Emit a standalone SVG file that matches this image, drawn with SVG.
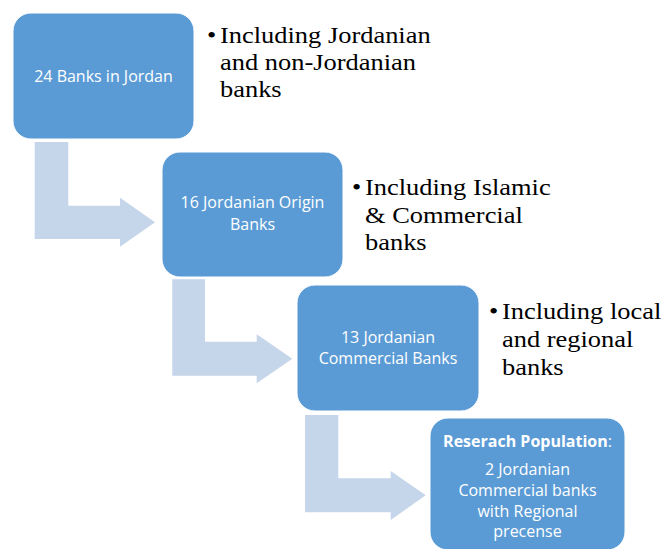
<svg xmlns="http://www.w3.org/2000/svg" width="662" height="549" viewBox="0 0 662 549">
  <style>
    .box { fill: #5B9BD5; stroke: #ffffff; stroke-width: 1; }
    .arrow { fill: #C5D5EA; }
    .lbl { font-family: "Open Sans", "Noto Sans", sans-serif; font-size: 16px; fill: #ffffff; text-anchor: middle; }
    .note { font-family: "Liberation Serif", "Times New Roman", serif; font-size: 23px; fill: #000000; }
  </style>

  <!-- bent connectors -->
  <g id="connectors">
    <polygon class="arrow" points="34.7,142 68.3,142 68.3,205.7 120,205.7 120,197.7 155,222.3 120,246.7 120,239 34.7,239"/>
    <polygon class="arrow" points="172.3,279.3 205,279.3 205,341.7 256.7,341.7 256.7,334.3 292.3,358.7 256.7,383.3 256.7,375.7 172.3,375.7"/>
    <polygon class="arrow" points="305,415 338.3,415 338.3,478.3 390.7,478.3 390.7,471 425.7,495.3 390.7,520 390.7,512.3 305,512.3"/>
  </g>

  <g id="node-all-banks">
    <rect class="box" x="13" y="13" width="181" height="126" rx="18"/>
    <text class="lbl" x="103.5" y="82">24 Banks in Jordan</text>
  </g>

  <g id="node-jordanian-origin">
    <rect class="box" x="162" y="152" width="181" height="125" rx="18"/>
    <text class="lbl" x="252.5" y="208">16 Jordanian Origin</text>
    <text class="lbl" x="252.5" y="230">Banks</text>
  </g>

  <g id="node-commercial">
    <rect class="box" x="297" y="285" width="182" height="126" rx="18"/>
    <text class="lbl" x="388" y="343">13 Jordanian</text>
    <text class="lbl" x="388" y="364">Commercial Banks</text>
  </g>

  <g id="node-population">
    <rect class="box" x="430" y="418" width="195" height="132" rx="18"/>
    <text class="lbl" x="527.5" y="447"><tspan font-weight="bold">Reserach Population</tspan>:</text>
    <text class="lbl" x="527.5" y="475">2 Jordanian</text>
    <text class="lbl" x="527.5" y="496">Commercial banks</text>
    <text class="lbl" x="527.5" y="517">with Regional</text>
    <text class="lbl" x="527.5" y="537">precense</text>
  </g>

  <!-- bullet notes, set slightly wide -->
  <g id="note-all-banks" transform="translate(207,0) scale(1.15,1)">
    <text class="note" x="0" y="43">•</text>
    <text class="note" x="11.3" y="43">Including Jordanian</text>
    <text class="note" x="11.3" y="70">and non-Jordanian</text>
    <text class="note" x="11.3" y="97">banks</text>
  </g>

  <g id="note-jordanian-origin" transform="translate(352,0) scale(1.15,1)">
    <text class="note" x="0" y="195">•</text>
    <text class="note" x="11.3" y="195">Including Islamic</text>
    <text class="note" x="11.3" y="223">&amp; Commercial</text>
    <text class="note" x="11.3" y="250">banks</text>
  </g>

  <g id="note-commercial" transform="translate(489,0) scale(1.15,1)">
    <text class="note" x="0" y="319">•</text>
    <text class="note" x="11.3" y="319">Including local</text>
    <text class="note" x="11.3" y="347">and regional</text>
    <text class="note" x="11.3" y="375">banks</text>
  </g>
</svg>
